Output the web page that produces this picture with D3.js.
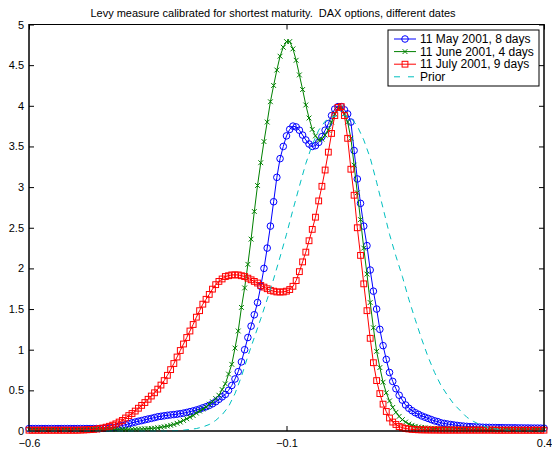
<!DOCTYPE html>
<html><head><meta charset="utf-8">
<script src="https://cdn.jsdelivr.net/npm/d3@7"></script>
<style>
body{margin:0;background:#fff}
svg{display:block}
text{font-family:"Liberation Sans",Arial,Helvetica,sans-serif;fill:#000}
</style>
</head><body>
<svg id="chart" width="552" height="452"></svg>
<script>
// ---------------- data ----------------
const title = "Levy measure calibrated for shortest maturity.  DAX options, different dates";
const seriesNames = ["11 May 2001, 8 days", "11 June 2001, 4 days", "11 July 2001, 9 days", "Prior"];
const xTicks = [-0.6, -0.1, 0.4];
const xTickLabels = ["\u22120.6", "\u22120.1", "0.4"];
const yTicks = [0, 0.5, 1, 1.5, 2, 2.5, 3, 3.5, 4, 4.5, 5];
const yTickLabels = ["0", "0.5", "1", "1.5", "2", "2.5", "3", "3.5", "4", "4.5", "5"];

// x grid of the calibrated measures (start, step) and of the prior
const gridStart = -0.6, gridStep = 0.00625;
const priorStart = -0.6, priorStep = 0.0125;

const may = [
0.03,0.03,0.03,0.03,0.03,0.03,0.03,0.03,0.03,0.03,0.03,0.03,0.03,0.03,0.03,0.03,0.03,0.03,0.03,0.03,0.03,0.03,0.03,
0.032,0.035,0.038,0.042,0.048,0.058,0.068,0.077,0.09,0.10,
0.11,0.12,0.128,0.138,0.147,0.155,0.165,0.175,0.181,0.187,0.193,0.198,0.202,0.207,0.213,0.22,
0.228,0.238,0.247,0.258,0.27,0.285,0.298,0.315,0.335,0.36,0.39,0.42,0.45,0.50,0.56,0.64,
0.73,0.85,1.0,1.15,1.29,1.43,1.58,1.78,2.0,2.25,2.52,2.82,3.12,3.35,3.50,3.63,
3.71,3.75,3.74,3.70,3.64,3.58,3.53,3.50,3.51,3.55,3.62,3.70,3.78,3.88,3.96,3.99,
3.99,3.95,3.90,3.80,3.45,3.10,2.80,2.52,2.28,1.98,1.72,1.50,1.25,1.05,0.88,0.72,
0.61,0.52,0.44,0.38,0.32,0.28,0.25,0.225,0.205,0.185,0.17,0.155,0.14,0.125,0.115,0.10,
0.093,0.086,0.08,0.074,0.069,0.064,0.06,0.057,0.054,0.052,0.05,0.048,0.046,0.045,0.044,0.043,
0.042,0.041,0.041,0.04,0.04,0.039,0.039,0.038,0.038,0.037,0.037,0.036,0.036,0.036,0.035,0.035
];
const june = [
0.02,0.02,0.02,0.02,0.02,0.02,0.02,0.02,0.02,0.02,0.02,0.02,0.02,0.02,0.02,0.02,
0.02,0.02,0.02,0.02,0.02,0.02,0.02,0.02,0.02,0.02,0.02,0.02,0.02,0.02,0.02,0.02,
0.022,
0.023,0.024,0.025,0.027,0.029,0.032,0.035,0.04,0.046,0.053,0.06,0.07,0.08,0.095,0.11,0.13,
0.15,0.17,0.19,0.22,0.245,0.27,0.295,0.33,0.36,0.40,0.44,0.51,0.58,0.70,0.82,1.02,
1.23,1.52,1.76,2.05,2.36,2.70,3.02,3.30,3.56,3.80,4.05,4.25,4.44,4.61,4.72,4.79,
4.79,4.70,4.56,4.38,4.20,4.01,3.85,3.71,3.63,3.58,3.59,3.64,3.70,3.80,3.90,3.96,
3.98,3.90,3.80,3.60,3.27,2.93,2.60,2.25,1.93,1.58,1.27,0.98,0.78,0.60,0.47,0.37,
0.29,0.23,0.18,0.14,0.11,0.085,0.07,0.058,0.05,0.044,0.04,0.036,0.033,0.031,0.029,0.027,
0.026,0.026,0.025,0.025,0.025,0.024,0.024,0.024,0.023,0.023,0.023,0.022,0.022,0.022,0.022,0.021,
0.021,0.021,0.021,0.021,0.021,0.021,0.021,0.021,0.02,0.02,0.02,0.02,0.02,0.02,0.02,0.02
];
const july = [
0.01,0.01,0.01,0.01,0.01,0.01,0.01,0.01,0.01,0.01,0.01,0.01,0.01,0.01,0.01,0.01,
0.012,0.013,0.015,0.017,0.02,0.024,0.03,0.037,0.047,0.058,0.072,0.088,0.11,0.13,0.16,0.19,0.215,
0.245,0.28,0.315,0.35,0.39,0.43,0.47,0.515,0.565,0.62,0.685,0.755,0.83,0.91,0.99,1.07,
1.15,1.23,1.31,1.40,1.48,1.56,1.62,1.68,1.745,1.80,1.84,1.87,1.90,1.91,1.92,1.92,
1.92,1.91,1.90,1.88,1.86,1.84,1.82,1.79,1.77,1.75,1.73,1.72,1.71,1.71,1.71,1.72,
1.74,1.78,1.85,1.96,2.08,2.20,2.34,2.48,2.63,2.83,3.01,3.21,3.43,3.66,3.88,3.98,
3.99,3.88,3.60,3.22,2.90,2.50,2.16,1.81,1.48,1.14,0.84,0.62,0.46,0.33,0.24,0.16,
0.11,0.08,0.055,0.04,0.03,0.025,0.02,0.017,0.015,0.014,0.013,0.013,0.012,0.012,0.012,0.011,
0.011,0.011,0.011,0.011,0.011,0.011,0.011,0.011,0.011,0.011,0.011,0.011,0.011,0.011,0.011,0.011,
0.01,0.01,0.01,0.01,0.01,0.01,0.01,0.01,0.01,0.01,0.01,0.01,0.01,0.01,0.01,0.01
];
const prior = [
0,0,0,0,0,0,0,0,0,0,0,0,0,0,0,0,0,0,0,0,0,0,0,
0.005,0.01,0.02,0.03,0.05,0.08,0.13,0.20,0.30,0.46,0.67,0.92,1.15,1.38,1.62,1.87,
2.14,2.42,2.72,3.01,3.29,3.52,3.70,3.81,3.86,3.88,3.88,3.85,3.75,3.58,3.36,3.06,
2.74,2.42,2.15,1.90,1.62,1.37,1.13,0.91,0.72,0.56,0.44,0.33,0.25,0.17,0.12,0.08,
0.05,0.03,0.02,0.01,0.005,0.003,0.002,0.001,0,0
];

// ---------------- drawing ----------------
const colors = ["#0000ff", "#008000", "#ff0000", "#00bfbf"];
const markers = ["circle", "x", "square", null];

const svg = d3.select("#chart");
const plot = {left: 29, right: 544, top: 24.5, bottom: 431};
const x = d3.scaleLinear().domain([-0.6, 0.4]).range([plot.left, plot.right]);
const y = d3.scaleLinear().domain([0, 5]).range([plot.bottom, plot.top]);

const toPts = (arr, start, step) => arr.map((v, i) => [start + i * step, v]);
const seriesData = [
  toPts(may, gridStart, gridStep),
  toPts(june, gridStart, gridStep),
  toPts(july, gridStart, gridStep),
  toPts(prior, priorStart, priorStep)
];

// axes box
svg.append("rect").attr("x", plot.left).attr("y", plot.top)
  .attr("width", plot.right - plot.left).attr("height", plot.bottom - plot.top)
  .attr("fill", "#fff").attr("stroke", "#000").attr("stroke-width", 1);

// ticks (inward, on both sides) via d3 axes
const tl = 5;
const gB = svg.append("g").attr("transform", `translate(0,${plot.bottom})`)
  .call(d3.axisBottom(x).tickValues(xTicks).tickSizeInner(-tl).tickSizeOuter(0)
    .tickPadding(8).tickFormat((d, i) => xTickLabels[i]));
const gT = svg.append("g").attr("transform", `translate(0,${plot.top})`)
  .call(d3.axisTop(x).tickValues(xTicks).tickSizeInner(-tl).tickSizeOuter(0).tickFormat(""));
const gL = svg.append("g").attr("transform", `translate(${plot.left},0)`)
  .call(d3.axisLeft(y).tickValues(yTicks).tickSizeInner(-tl).tickSizeOuter(0)
    .tickPadding(4).tickFormat((d, i) => yTickLabels[i]));
const gR = svg.append("g").attr("transform", `translate(${plot.right},0)`)
  .call(d3.axisRight(y).tickValues(yTicks).tickSizeInner(-tl).tickSizeOuter(0).tickFormat(""));
[gB, gT, gL, gR].forEach(g => {
  g.select(".domain").remove();
  g.selectAll("line").attr("stroke", "#000");
  g.selectAll("text").attr("font-size", 11).attr("font-family", "'Liberation Sans',Arial,sans-serif").attr("fill", "#000");
});
gL.selectAll("text").attr("dx", "-1");

// marker drawer
function drawMarker(g, type, cx, cy, color) {
  if (type === "circle") {
    g.append("circle").attr("cx", cx).attr("cy", cy).attr("r", 3.3)
      .attr("fill", "none").attr("stroke", color).attr("stroke-width", 1);
  } else if (type === "x") {
    const s = 2.4;
    g.append("path").attr("d", `M${cx - s},${cy - s}L${cx + s},${cy + s}M${cx - s},${cy + s}L${cx + s},${cy - s}`)
      .attr("stroke", color).attr("stroke-width", 1).attr("fill", "none");
  } else if (type === "square") {
    const s = 2.9;
    g.append("rect").attr("x", cx - s).attr("y", cy - s).attr("width", 2 * s).attr("height", 2 * s)
      .attr("fill", "none").attr("stroke", color).attr("stroke-width", 1);
  }
}

const line = d3.line().x(d => x(d[0])).y(d => y(d[1]));
seriesData.forEach((pts, k) => {
  const g = svg.append("g");
  g.append("path").datum(pts).attr("d", line)
    .attr("fill", "none").attr("stroke", colors[k]).attr("stroke-width", 1)
    .attr("stroke-dasharray", markers[k] ? null : "6,5");
  if (markers[k]) pts.forEach(p => drawMarker(g, markers[k], x(p[0]), y(p[1]), colors[k]));
});

// redraw the frame on top
svg.append("rect").attr("x", plot.left).attr("y", plot.top)
  .attr("width", plot.right - plot.left).attr("height", plot.bottom - plot.top)
  .attr("fill", "none").attr("stroke", "#000").attr("stroke-width", 1);

// title
svg.append("text").attr("x", 273).attr("y", 17).attr("text-anchor", "middle")
  .attr("font-size", 11).style("white-space", "pre").text(title);

// legend
const lg = svg.append("g").attr("transform", "translate(388,30)");
lg.append("rect").attr("width", 151).attr("height", 56).attr("fill", "#fff")
  .attr("stroke", "#000").attr("stroke-width", 1);
seriesNames.forEach((name, k) => {
  const cy = 9 + k * 12.6;
  lg.append("line").attr("x1", 6).attr("x2", 28).attr("y1", cy).attr("y2", cy)
    .attr("stroke", colors[k]).attr("stroke-width", 1)
    .attr("stroke-dasharray", markers[k] ? null : "6,8");
  if (markers[k]) drawMarker(lg, markers[k], 17, cy, colors[k]);
  lg.append("text").attr("x", 32).attr("y", cy + 4.2).attr("font-size", 12).text(name);
});
</script>
</body></html>
